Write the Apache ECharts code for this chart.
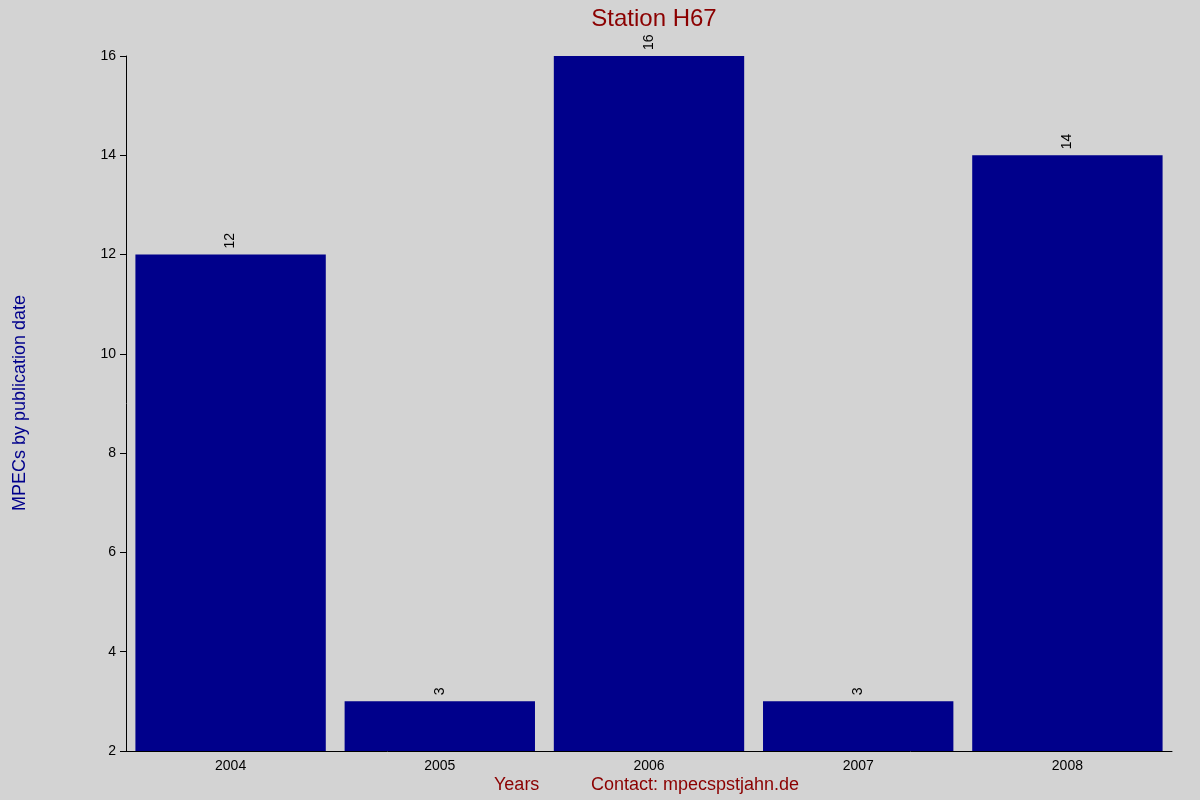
<!DOCTYPE html>
<html><head><meta charset="utf-8">
<script src="https://cdn.jsdelivr.net/npm/echarts@6/dist/echarts.min.js"></script>
<style>html,body{margin:0;padding:0;background:#d3d3d3}#c{width:1200px;height:800px}</style>
</head><body><div id="c"></div>
<script>
const categories = ['2004','2005','2006','2007','2008'];
const values = [12, 3, 16, 3, 14];
const chart = echarts.init(document.getElementById('c'));
chart.setOption({
  backgroundColor:'#d3d3d3',
  animation:false,
  title:{text:'Station H67',left:649,top:2,textAlign:'center',textStyle:{color:'#8b0000',fontSize:24,fontWeight:'normal',fontFamily:'Liberation Sans'}},
  grid:{left:126,right:28,top:56,bottom:49},
  xAxis:{type:'category',data:categories,
    axisLine:{lineStyle:{color:'#000'}},axisTick:{show:false},
    axisLabel:{color:'#000',fontSize:14,fontFamily:'Liberation Sans',margin:8}},
  yAxis:{type:'value',min:2,max:16,interval:2,
    axisLine:{show:true,lineStyle:{color:'#000'}},axisTick:{show:true,length:6,lineStyle:{color:'#000'}},
    splitLine:{show:false},
    axisLabel:{color:'#000',fontSize:14,fontFamily:'Liberation Sans',margin:10}},
  series:[{type:'bar',data:values,barCategoryGap:'9%',itemStyle:{color:'#00008b'},
    label:{show:true,position:'top',rotate:90,align:'left',verticalAlign:'middle',distance:6,color:'#000',fontSize:14,fontFamily:'Liberation Sans'}}],
  graphic:[
    {type:'text',left:494,top:776,style:{text:'Years',fill:'#8b0000',font:'18px Liberation Sans'}},
    {type:'text',left:591,top:776,style:{text:'Contact: mpecspstjahn.de',fill:'#8b0000',font:'18px Liberation Sans'}},
    {type:'text',x:20,y:403,rotation:Math.PI/2,style:{text:'MPECs by publication date',fill:'#00008b',font:'18px Liberation Sans',align:'center',verticalAlign:'middle'}}
  ]
});
</script></body></html>
